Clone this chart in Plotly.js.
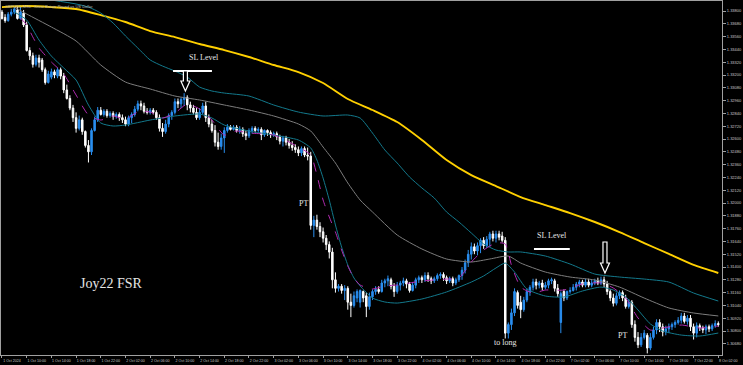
<!DOCTYPE html>
<html>
<head>
<meta charset="utf-8">
<script src="https://cdn.plot.ly/plotly-3.0.1.min.js"></script>
<style>html,body{margin:0;padding:0;background:#000;}#chart{width:743px;height:365px;}</style>
</head>
<body>
<div id="chart"></div>
<script>
// GBPUSD M30 bars, 1 Oct 06:00 .. 8 Oct 02:00
const openP = [
1.3379,1.3374,1.3371,1.3377,1.3379,1.3381,1.3373,1.3378,1.3367,1.3343,
1.3338,1.3330,1.3336,1.3334,1.3325,1.3313,1.3318,1.3323,1.3319,1.3325,
1.3319,1.3306,1.3298,1.3289,1.3280,1.3270,1.3278,1.3267,1.3254,1.3248,
1.3268,1.3278,1.3287,1.3283,1.3286,1.3282,1.3284,1.3281,1.3283,1.3280,
1.3278,1.3274,1.3280,1.3283,1.3288,1.3293,1.3291,1.3286,1.3285,1.3287,
1.3285,1.3280,1.3270,1.3267,1.3274,1.3282,1.3285,1.3295,1.3293,1.3297,
1.3299,1.3292,1.3289,1.3285,1.3280,1.3285,1.3291,1.3280,1.3274,1.3268,
1.3257,1.3253,1.3261,1.3268,1.3271,1.3269,1.3271,1.3268,1.3269,1.3265,
1.3263,1.3268,1.3270,1.3268,1.3269,1.3264,1.3268,1.3266,1.3264,1.3265,
1.3262,1.3258,1.3261,1.3257,1.3254,1.3252,1.3250,1.3247,1.3251,1.3245,
1.3244,1.3179,1.3184,1.3178,1.3173,1.3167,1.3161,1.3154,1.3128,1.3120,
1.3122,1.3118,1.3120,1.3107,1.3104,1.3111,1.3107,1.3117,1.3113,1.3103,
1.3112,1.3117,1.3119,1.3117,1.3125,1.3127,1.3128,1.3122,1.3117,1.3123,
1.3125,1.3127,1.3124,1.3118,1.3123,1.3128,1.3130,1.3128,1.3132,1.3129,
1.3127,1.3129,1.3132,1.3133,1.3130,1.3127,1.3129,1.3125,1.3128,1.3132,
1.3137,1.3144,1.3152,1.3159,1.3155,1.3160,1.3165,1.3160,1.3166,1.3171,
1.3167,1.3171,1.3169,1.3165,1.3078,1.3086,1.3097,1.3116,1.3107,1.3100,
1.3109,1.3117,1.3121,1.3126,1.3123,1.3125,1.3121,1.3123,1.3127,1.3127,
1.3120,1.3088,1.3117,1.3111,1.3117,1.3118,1.3121,1.3124,1.3126,1.3123,
1.3126,1.3123,1.3125,1.3127,1.3125,1.3128,1.3124,1.3117,1.3111,1.3106,
1.3113,1.3116,1.3111,1.3103,1.3107,1.3086,1.3074,1.3067,1.3074,1.3076,
1.3064,1.3074,1.3081,1.3088,1.3084,1.3079,1.3082,1.3084,1.3086,1.3088,
1.3090,1.3094,1.3089,1.3092,1.3084,1.3078,1.3085,1.3083,1.3081,1.3084,
1.3082,1.3085,1.3087];
const highP = [
1.3381,1.3377,1.3379,1.3382,1.3384,1.3384,1.3385,1.3381,1.3370,1.3346,
1.3341,1.3339,1.3339,1.3336,1.3327,1.3324,1.3326,1.3325,1.3327,1.3327,
1.3322,1.3311,1.3301,1.3292,1.3285,1.3282,1.3280,1.3268,1.3259,1.3270,
1.3281,1.3290,1.3290,1.3288,1.3288,1.3286,1.3286,1.3285,1.3285,1.3283,
1.3281,1.3282,1.3285,1.3291,1.3296,1.3296,1.3294,1.3289,1.3289,1.3289,
1.3287,1.3283,1.3275,1.3278,1.3284,1.3287,1.3298,1.3298,1.3299,1.3303,
1.3301,1.3295,1.3292,1.3289,1.3289,1.3294,1.3295,1.3283,1.3278,1.3273,
1.3266,1.3265,1.3271,1.3274,1.3273,1.3273,1.3273,1.3272,1.3271,1.3268,
1.3270,1.3272,1.3272,1.3271,1.3271,1.3269,1.3269,1.3268,1.3267,1.3267,
1.3264,1.3263,1.3263,1.3260,1.3258,1.3255,1.3253,1.3253,1.3253,1.3252,
1.3248,1.3188,1.3189,1.3182,1.3177,1.3170,1.3164,1.3158,1.3135,1.3124,
1.3124,1.3123,1.3122,1.3115,1.3117,1.3119,1.3119,1.3118,1.3116,1.3116,
1.3119,1.3122,1.3122,1.3128,1.3129,1.3132,1.3130,1.3125,1.3126,1.3127,
1.3130,1.3129,1.3126,1.3126,1.3130,1.3132,1.3132,1.3135,1.3135,1.3131,
1.3131,1.3134,1.3135,1.3135,1.3132,1.3131,1.3131,1.3130,1.3133,1.3140,
1.3147,1.3156,1.3163,1.3162,1.3163,1.3167,1.3168,1.3169,1.3173,1.3174,
1.3174,1.3174,1.3173,1.3168,1.3088,1.3101,1.3120,1.3118,1.3113,1.3112,
1.3120,1.3123,1.3129,1.3129,1.3127,1.3128,1.3126,1.3129,1.3130,1.3129,
1.3124,1.3117,1.3119,1.3118,1.3121,1.3124,1.3126,1.3128,1.3128,1.3129,
1.3129,1.3128,1.3129,1.3130,1.3131,1.3131,1.3127,1.3119,1.3115,1.3116,
1.3118,1.3118,1.3114,1.3110,1.3109,1.3090,1.3079,1.3078,1.3081,1.3078,
1.3078,1.3084,1.3091,1.3091,1.3087,1.3085,1.3087,1.3088,1.3090,1.3093,
1.3097,1.3097,1.3095,1.3095,1.3087,1.3088,1.3087,1.3085,1.3086,1.3086,
1.3087,1.3090,1.3089];
const lowP = [
1.3372,1.3369,1.3370,1.3375,1.3377,1.3372,1.3372,1.3365,1.3342,1.3334,
1.3327,1.3328,1.3327,1.3323,1.3311,1.3312,1.3316,1.3317,1.3317,1.3316,
1.3303,1.3297,1.3287,1.3276,1.3266,1.3268,1.3264,1.3252,1.3238,1.3245,
1.3267,1.3276,1.3282,1.3281,1.3280,1.3280,1.3278,1.3279,1.3277,1.3275,
1.3272,1.3272,1.3275,1.3281,1.3286,1.3287,1.3284,1.3283,1.3283,1.3283,
1.3278,1.3267,1.3262,1.3265,1.3271,1.3278,1.3283,1.3289,1.3289,1.3291,
1.3287,1.3285,1.3283,1.3278,1.3278,1.3283,1.3276,1.3271,1.3266,1.3253,
1.3250,1.3250,1.3247,1.3266,1.3268,1.3268,1.3266,1.3265,1.3262,1.3259,
1.3261,1.3265,1.3266,1.3266,1.3259,1.3262,1.3263,1.3261,1.3262,1.3259,
1.3255,1.3253,1.3254,1.3251,1.3249,1.3247,1.3244,1.3244,1.3243,1.3240,
1.3175,1.3168,1.3175,1.3168,1.3163,1.3156,1.3148,1.3120,1.3116,1.3117,
1.3115,1.3109,1.3100,1.3093,1.3102,1.3107,1.3102,1.3107,1.3093,1.3100,
1.3109,1.3114,1.3115,1.3116,1.3121,1.3122,1.3119,1.3112,1.3115,1.3118,
1.3122,1.3120,1.3116,1.3117,1.3120,1.3125,1.3125,1.3126,1.3126,1.3124,
1.3125,1.3127,1.3129,1.3127,1.3124,1.3125,1.3122,1.3123,1.3126,1.3128,
1.3134,1.3140,1.3147,1.3152,1.3151,1.3153,1.3157,1.3158,1.3159,1.3164,
1.3163,1.3165,1.3163,1.3073,1.3073,1.3081,1.3094,1.3101,1.3092,1.3098,
1.3107,1.3113,1.3118,1.3119,1.3120,1.3118,1.3119,1.3120,1.3124,1.3117,
1.3112,1.3078,1.3108,1.3109,1.3115,1.3117,1.3118,1.3121,1.3121,1.3121,
1.3121,1.3121,1.3123,1.3123,1.3123,1.3121,1.3114,1.3108,1.3103,1.3104,
1.3110,1.3108,1.3101,1.3101,1.3083,1.3070,1.3064,1.3065,1.3072,1.3059,
1.3062,1.3072,1.3077,1.3079,1.3075,1.3076,1.3078,1.3081,1.3083,1.3086,
1.3087,1.3087,1.3086,1.3080,1.3072,1.3074,1.3080,1.3078,1.3077,1.3079,
1.3080,1.3083,1.3084];
const closeP = [
1.3373,1.3371,1.3377,1.3379,1.3382,1.3373,1.3379,1.3367,1.3343,1.3338,
1.3330,1.3336,1.3332,1.3325,1.3313,1.3321,1.3323,1.3320,1.3325,1.3319,
1.3306,1.3298,1.3289,1.3280,1.3270,1.3278,1.3267,1.3254,1.3248,1.3268,
1.3278,1.3287,1.3283,1.3286,1.3282,1.3284,1.3281,1.3283,1.3280,1.3278,
1.3274,1.3280,1.3283,1.3288,1.3293,1.3291,1.3286,1.3285,1.3287,1.3285,
1.3280,1.3270,1.3267,1.3274,1.3282,1.3285,1.3295,1.3293,1.3297,1.3299,
1.3292,1.3289,1.3285,1.3280,1.3285,1.3291,1.3280,1.3274,1.3268,1.3257,
1.3253,1.3261,1.3268,1.3271,1.3269,1.3271,1.3268,1.3269,1.3265,1.3263,
1.3268,1.3270,1.3268,1.3269,1.3264,1.3268,1.3266,1.3264,1.3265,1.3262,
1.3258,1.3261,1.3257,1.3254,1.3252,1.3250,1.3247,1.3251,1.3245,1.3244,
1.3179,1.3184,1.3178,1.3173,1.3167,1.3161,1.3154,1.3128,1.3120,1.3122,
1.3118,1.3120,1.3107,1.3104,1.3113,1.3117,1.3118,1.3111,1.3103,1.3112,
1.3117,1.3119,1.3117,1.3125,1.3127,1.3129,1.3122,1.3117,1.3123,1.3125,
1.3127,1.3124,1.3118,1.3123,1.3128,1.3130,1.3128,1.3132,1.3129,1.3127,
1.3129,1.3132,1.3133,1.3130,1.3127,1.3129,1.3125,1.3128,1.3132,1.3137,
1.3144,1.3152,1.3159,1.3155,1.3160,1.3165,1.3160,1.3166,1.3171,1.3167,
1.3171,1.3168,1.3165,1.3078,1.3086,1.3097,1.3117,1.3104,1.3100,1.3109,
1.3117,1.3121,1.3126,1.3123,1.3125,1.3121,1.3123,1.3127,1.3128,1.3120,
1.3115,1.3115,1.3111,1.3117,1.3118,1.3121,1.3124,1.3126,1.3123,1.3126,
1.3123,1.3125,1.3127,1.3125,1.3128,1.3124,1.3117,1.3111,1.3106,1.3113,
1.3116,1.3111,1.3103,1.3107,1.3086,1.3074,1.3067,1.3074,1.3078,1.3064,
1.3074,1.3081,1.3088,1.3084,1.3079,1.3082,1.3084,1.3086,1.3088,1.3090,
1.3094,1.3089,1.3092,1.3084,1.3078,1.3085,1.3083,1.3081,1.3084,1.3082,
1.3085,1.3087,1.3086];

// indicator lines, read at bar indices
const yellowIdx = [0,8,16,24,32,40,48,56,64,72,80,88,96,104,112,120,128,136,144,152,160,168,176,184,192,200,208,216,224,232];
const yellowVal = [1.33837,1.33847,1.33837,1.33819,1.33762,1.33697,1.33612,1.33556,1.33491,1.33434,1.33369,1.33294,1.33228,1.33125,1.32975,1.32872,1.32759,1.32591,1.32403,1.32262,1.32159,1.32056,1.31981,1.31906,1.31822,1.31728,1.31625,1.31522,1.31419,1.31344];

const tealUpIdx = [16,24,28,32,36,40,44,48,52,56,60,64,68,72,80,88,96,104,112,116,120,124,128,132,136,140,144,148,152,156,160,164,168,176,184,192,200,208,216,224,232];
const tealUpVal = [1.33903,1.33866,1.33837,1.33781,1.33687,1.33566,1.33453,1.33341,1.33284,1.33237,1.33181,1.33087,1.33050,1.33031,1.33003,1.32919,1.32853,1.32816,1.32825,1.32797,1.32656,1.32497,1.32375,1.32244,1.32141,1.32047,1.31916,1.31822,1.31719,1.31616,1.31559,1.31541,1.31541,1.31503,1.31428,1.31334,1.31306,1.31287,1.31259,1.31156,1.31081];

const grayIdx = [4,8,16,24,32,40,48,56,64,72,80,88,96,100,104,108,112,116,120,128,136,144,152,158,164,168,176,184,192,200,208,216,224,232];
const grayVal = [1.33837,1.33772,1.33650,1.33519,1.33294,1.33134,1.33069,1.33003,1.32966,1.32919,1.32872,1.32816,1.32741,1.32675,1.32525,1.32375,1.32188,1.32028,1.31916,1.31700,1.31569,1.31475,1.31447,1.31475,1.31503,1.31437,1.31353,1.31306,1.31278,1.31212,1.31109,1.31016,1.30969,1.30941];

const tealLowIdx = [4,8,12,16,20,24,28,32,36,40,48,56,64,68,72,80,88,96,100,102,104,106,108,110,112,114,116,120,124,128,136,144,152,156,160,163,166,170,176,182,188,194,198,202,206,210,214,220,226,232];
const tealLowVal = [1.33791,1.33716,1.33528,1.33378,1.33266,1.33153,1.32919,1.32750,1.32722,1.32731,1.32778,1.32816,1.32834,1.32797,1.32731,1.32675,1.32637,1.32591,1.32516,1.32403,1.32234,1.32028,1.31794,1.31587,1.31419,1.31297,1.31222,1.31109,1.31072,1.31062,1.31100,1.31166,1.31259,1.31316,1.31391,1.31437,1.31353,1.31194,1.31128,1.31119,1.31175,1.31212,1.31184,1.31119,1.30997,1.30866,1.30800,1.30762,1.30753,1.30781];

const maIdx = [6,8,10,12,16,20,24,28,32,36,40,44,48,52,56,60,64,68,72,76,80,88,96,100,102,104,106,108,110,112,114,116,120,124,128,136,144,148,152,156,160,163,165,168,172,176,182,188,194,198,202,206,210,214,220,226,232];
const maVal = [1.33734,1.33669,1.33556,1.33453,1.33322,1.33209,1.33012,1.32825,1.32778,1.32816,1.32787,1.32853,1.32853,1.32797,1.32844,1.32928,1.32881,1.32778,1.32637,1.32675,1.32656,1.32637,1.32525,1.32450,1.32262,1.32028,1.31869,1.31728,1.31559,1.31409,1.31297,1.31231,1.31194,1.31222,1.31231,1.31269,1.31287,1.31297,1.31447,1.31559,1.31625,1.31616,1.31419,1.31212,1.31156,1.31184,1.31184,1.31241,1.31250,1.31203,1.31109,1.30922,1.30809,1.30828,1.30856,1.30828,1.30847];

const timeLabels = ["1 Oct 2024","1 Oct 10:00","1 Oct 14:00","1 Oct 18:00","1 Oct 22:00","2 Oct 02:00","2 Oct 06:00","2 Oct 10:00","2 Oct 14:00","2 Oct 18:00","2 Oct 22:00","3 Oct 02:00","3 Oct 06:00","3 Oct 10:00","3 Oct 14:00","3 Oct 18:00","3 Oct 22:00","4 Oct 02:00","4 Oct 06:00","4 Oct 10:00","4 Oct 14:00","4 Oct 18:00","4 Oct 22:00","7 Oct 02:00","7 Oct 06:00","7 Oct 10:00","7 Oct 14:00","7 Oct 18:00","7 Oct 22:00","8 Oct 02:00"];
const barsPerLabel = 8;

// annotation anchors (bar index, price)
const notes = [
  {text:"SL Level", x:65.4, y:1.33369, size:8},
  {text:"SL Level", x:178.1, y:1.31691, size:8},
  {text:"PT", x:97.5, y:1.31991, size:8},
  {text:"PT", x:201.1, y:1.30762, size:8},
  {text:"to long", x:162.9, y:1.30688, size:8},
  {text:"Joy22 FSR", x:35.6, y:1.31250, size:14}
];
const slLines = [{x0:55.4, x1:68.0, y:1.33237},{x0:172.3, x1:183.9, y:1.31569}];
const arrows = [{x:59.4, y:1.33050, len:20},{x:195.3, y:1.31344, len:31}];

const idx = openP.map((_, i) => i);
const tickPos = timeLabels.map((_, k) => k * barsPerLabel);

function line(xs, ys, color, width, dash) {
  return {type:'scatter', mode:'lines', x:xs, y:ys, hoverinfo:'skip',
    line:{color:color, width:width, dash:dash || 'solid', shape:'spline', smoothing:0.6}};
}

const traces = [
  line(yellowIdx, yellowVal, '#ffd000', 1.9),
  line(tealUpIdx, tealUpVal, '#13798c', 1),
  line(grayIdx, grayVal, '#7d7d7d', 1),
  line(tealLowIdx, tealLowVal, '#13798c', 1),
  {type:'candlestick', x:idx, open:openP, high:highP, low:lowP, close:closeP,
   increasing:{line:{color:'#2a8ff0', width:1}, fillcolor:'#2a8ff0'},
   decreasing:{line:{color:'#ffffff', width:1}, fillcolor:'#ffffff'},
   whiskerwidth:0, hoverinfo:'skip'},
  line(maIdx, maVal, '#b42cb4', 1, 'dash')
];

const shapes = [];
slLines.forEach(s => shapes.push({type:'line', xref:'x', yref:'y', x0:s.x0, x1:s.x1, y0:s.y, y1:s.y,
  line:{color:'#ffffff', width:2}}));
arrows.forEach(a => shapes.push({type:'path', xref:'x', yref:'y', xsizemode:'pixel', ysizemode:'pixel',
  xanchor:a.x, yanchor:a.y,
  path:'M0,0 L-4.5,10 L-2,10 L-2,' + a.len + ' L2,' + a.len + ' L2,10 L4.5,10 Z',
  fillcolor:'#000000', line:{color:'#ffffff', width:1.2}}));

const annotations = notes.map(n => ({text:n.text, x:n.x, y:n.y, xref:'x', yref:'y', showarrow:false,
  font:{family:'Liberation Serif, Times New Roman, serif', size:n.size, color:'#e6e6e6'}}));
annotations.push({text:'GBPUSD,M30:  Great Britain Pound vs US Dollar', xref:'paper', yref:'paper',
  x:0.003, y:0.998, xanchor:'left', yanchor:'top', showarrow:false,
  font:{family:'Liberation Sans, Arial, sans-serif', size:4, color:'#b8b8b8'}});

const axisFont = {family:'Liberation Sans, Arial, sans-serif', size:3.6, color:'#c8c8c8'};
const layout = {
  width:743, height:365,
  margin:{l:1, r:21, t:1, b:10, pad:0},
  paper_bgcolor:'#000000', plot_bgcolor:'#000000',
  showlegend:false,
  xaxis:{range:[-0.32, 233.2], showgrid:false, zeroline:false, showline:true, mirror:true,
    linecolor:'#a0a0a0', linewidth:1, ticks:'outside', ticklen:2, tickcolor:'#a0a0a0',
    tickvals:tickPos, ticktext:timeLabels, tickfont:axisFont, ticklabelshift:10, ticklabelstandoff:0,
    rangeslider:{visible:false}, automargin:false, fixedrange:true},
  yaxis:{range:[1.30575, 1.33894], side:'right', showgrid:false, zeroline:false, showline:true, mirror:true,
    linecolor:'#a0a0a0', linewidth:1, ticks:'outside', ticklen:3, tickcolor:'#a0a0a0',
    tick0:1.3068, dtick:0.0012, tickformat:'.5f', tickfont:{family:'Liberation Sans, Arial, sans-serif', size:4, color:'#c8c8c8'},
    automargin:false, fixedrange:true},
  shapes:shapes,
  annotations:annotations
};

Plotly.newPlot('chart', traces, layout, {staticPlot:true, displayModeBar:false});
</script>
</body>
</html>
